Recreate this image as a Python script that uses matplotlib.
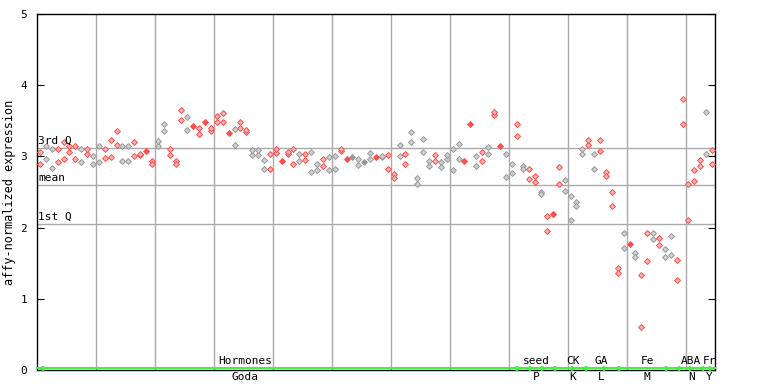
import numpy as np
import matplotlib
matplotlib.use("Agg")
import matplotlib.pyplot as plt

# two replicate values per condition
rep_a = [3.06, 3.14, 3.11, 3.10, 3.20, 3.14, 3.14, 3.11, 3.11, 3.00,
         3.14, 3.11, 3.23, 3.35, 3.14, 3.14, 3.20, 3.04, 3.08, 2.94,
         3.21, 3.45, 3.11, 2.93, 3.65, 3.56, 3.43, 3.40, 3.48, 3.40,
         3.57, 3.61, 3.33, 3.38, 3.48, 3.37, 3.09, 3.09, 2.95, 3.04,
         3.10, 2.93, 3.06, 3.10, 3.04, 3.03, 3.06, 2.89, 2.96, 2.99,
         3.00, 3.11, 2.97, 2.99, 2.97, 2.92, 3.05, 2.99, 3.01, 3.02,
         2.75, 3.16, 3.03, 3.34, 2.69, 3.25, 2.94, 3.02, 2.92, 3.02,
         3.10, 3.17, 2.94, 3.45, 3.01, 3.06, 3.13, 3.63, 3.15, 3.04,
         2.89, 3.46, 2.86, 2.83, 2.72, 2.50, 2.16, 2.19, 2.85, 2.67,
         2.45, 2.36, 3.10, 3.23, 3.04, 3.23, 2.78, 2.50, 1.43, 1.92,
         1.77, 1.65, 1.33, 1.92, 1.93, 1.85, 1.70, 1.88, 1.55, 3.80,
         2.61, 2.81, 2.95, 3.63, 3.09]
rep_b = [2.90, 2.96, 2.84, 2.92, 2.96, 3.06, 2.96, 2.92, 3.04, 2.89,
         2.92, 2.98, 2.99, 3.16, 2.93, 2.93, 3.00, 3.02, 3.08, 2.90,
         3.14, 3.35, 3.02, 2.89, 3.51, 3.37, 3.43, 3.32, 3.48, 3.36,
         3.48, 3.48, 3.33, 3.16, 3.40, 3.34, 3.02, 3.02, 2.83, 2.83,
         3.05, 2.93, 3.03, 2.90, 2.94, 2.95, 2.78, 2.81, 2.87, 2.81,
         2.83, 3.07, 2.97, 2.99, 2.88, 2.92, 2.96, 2.99, 2.99, 2.83,
         2.69, 3.00, 2.90, 3.20, 2.61, 3.06, 2.87, 2.93, 2.85, 2.96,
         2.81, 2.97, 2.94, 3.45, 2.87, 2.93, 3.04, 3.58, 3.15, 2.71,
         2.77, 3.29, 2.83, 2.68, 2.64, 2.47, 1.95, 2.19, 2.61, 2.52,
         2.10, 2.30, 3.04, 3.16, 2.83, 3.07, 2.72, 2.30, 1.36, 1.72,
         1.77, 1.59, 0.61, 1.53, 1.84, 1.75, 1.59, 1.62, 1.26, 3.46,
         2.10, 2.66, 2.86, 3.03, 2.90]
# r = red, g = grey, one per condition
point_colors = ("rggrrrrgrg" "grrrggrrrr" "ggrrrgrrrr" "rrrgrrgggr"
                "rrrrgrggrg" "grrggggrgr" "rgrggggrgg" "ggrrgrgrrg"
                "grgrrgrrrg" "gggrgrrrrg" "rgrrgrggrr" "rrrgr")

quartiles = {"3rd Q": 3.12, "mean": 2.60, "1st Q": 2.05}

group_top = ["Hormones", "seed", "CK", "GA", "Fe", "ABA", "Fr"]
group_bottom = ["Goda", "P", "K", "L", "M", "N", "Y"]
group_label_x = [70.5, 169.5, 181.7, 191.5, 207.0, 222.0, 228.2]
group_edges = [(0, 164.5), (165.5, 173), (174, 183), (184.5, 194), (195.5, 215), (216, 223), (224, 230)]

RED_EDGE, RED_FACE = "#ff4c4c", "#ffb3b3"
GREY_EDGE, GREY_FACE = "#999999", "#d0d0d0"
mono = "DejaVu Sans Mono"

fig = plt.figure(figsize=(7.68, 3.84), dpi=100)
ax = fig.add_axes([37 / 768, 14 / 384, 678 / 768, 356 / 384])

x = np.arange(len(rep_a)) * 2 + 1
a = np.array(rep_a)
b = np.array(rep_b)
for xi, va, vb, c in zip(x, a, b, point_colors):
    edge, face = (RED_EDGE, RED_FACE) if c == "r" else (GREY_EDGE, GREY_FACE)
    same = abs(va - vb) < 0.01
    for v in {va, vb}:
        ax.plot(xi, v, marker="D", ms=3.0, mec=edge, mew=0.7,
                mfc=edge if same else face, ls="none", zorder=3)

ax.set_xlim(0, 230)
ax.set_ylim(0, 5)
for gx in range(20, 230, 20):
    ax.axvline(gx, color="#aaaaaa", lw=1, zorder=1)
for name, val in quartiles.items():
    ax.axhline(val, color="#aaaaaa", lw=1, zorder=1)
    ax.text(0.4, val + 0.03, name, fontsize=8, family=mono, va="bottom", ha="left", zorder=4)

# group bar along the bottom
ax.plot([0, 230], [0.025, 0.025], color="#44ee44", lw=1.5, clip_on=False, zorder=5)
for s, e in group_edges:
    ax.plot([s + 1.2], [0.025], marker="<", ms=3, color="#44ee44", clip_on=False, zorder=5)
    ax.plot([e - 1.2], [0.025], marker=">", ms=3, color="#44ee44", clip_on=False, zorder=5)
for lx, top, bot in zip(group_label_x, group_top, group_bottom):
    ax.text(lx, 0.06, top, fontsize=8, family=mono, ha="center", va="bottom")
    ax.text(lx, -0.03, bot, fontsize=8, family=mono, ha="center", va="top")

ax.set_yticks(range(6))
ax.set_yticklabels([str(i) for i in range(6)], family=mono, fontsize=8)
ax.tick_params(axis="y", direction="in", length=5, left=True, right=True, pad=7)
ax.set_xticks([])
for sp in ax.spines.values():
    sp.set_color("black")
    sp.set_linewidth(1)
ax.set_ylabel("affy-normalized expression", family=mono, fontsize=8.6, labelpad=3)

fig.savefig("out.png", dpi=100)
